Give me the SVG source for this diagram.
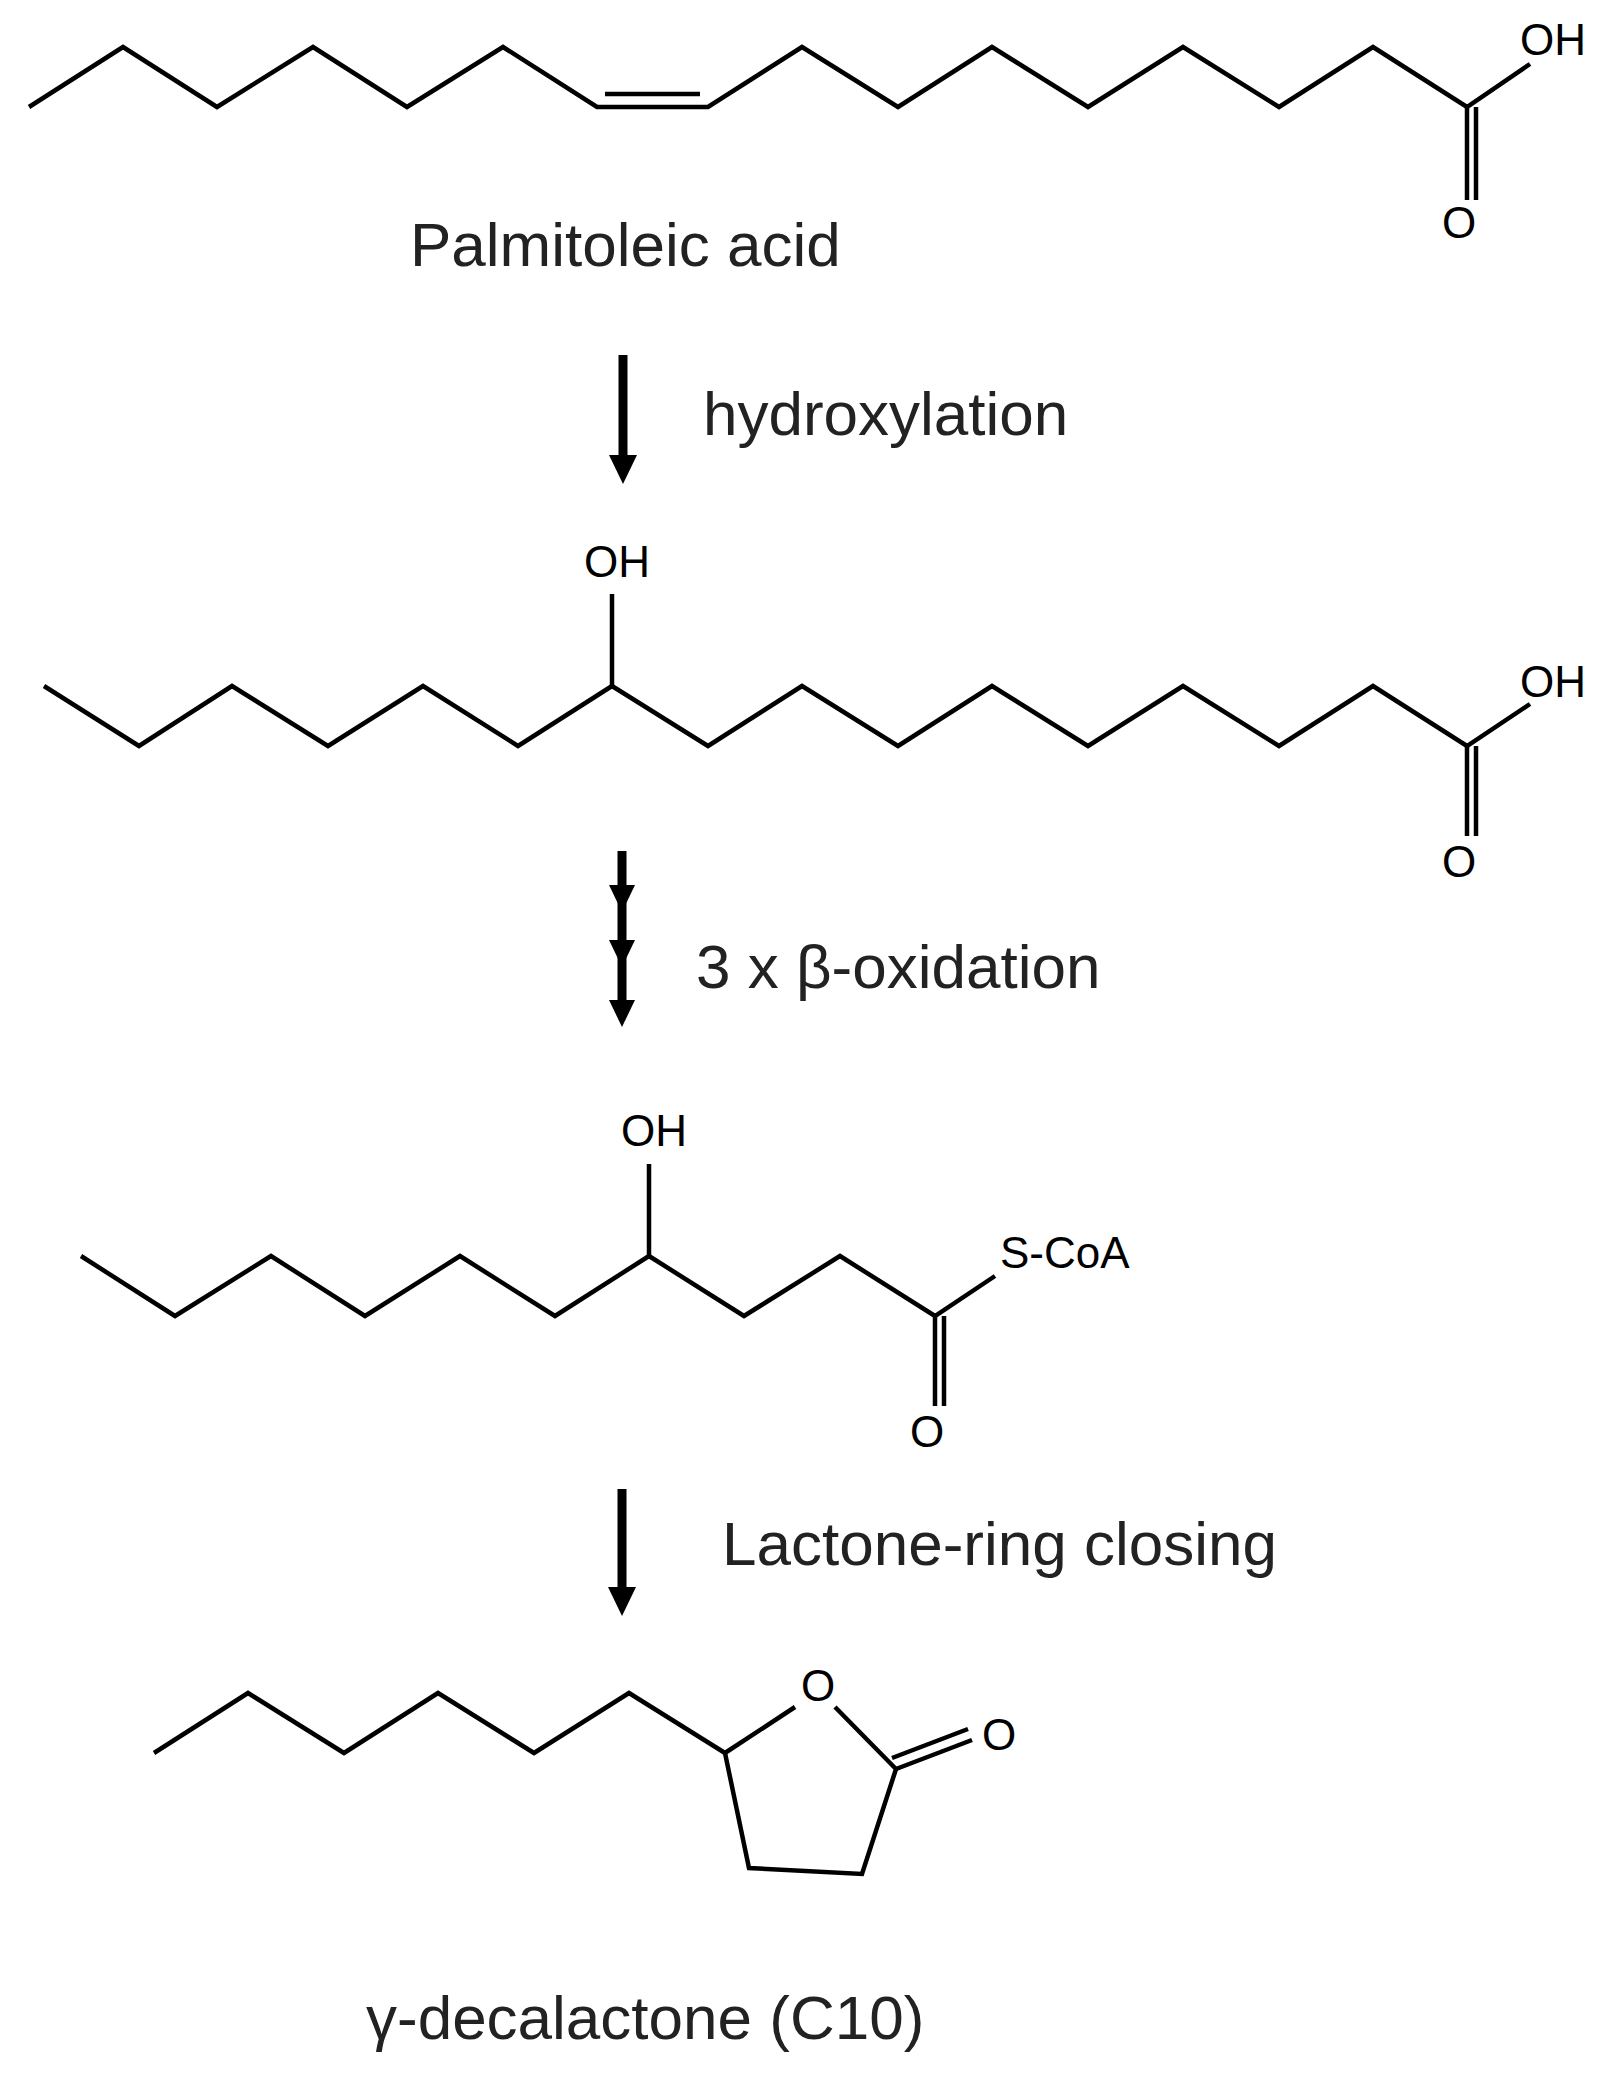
<svg xmlns="http://www.w3.org/2000/svg" width="1618" height="2091" viewBox="0 0 1618 2091">
<style>
.b{fill:none;stroke:#000;stroke-width:4.5;stroke-linejoin:miter}
.s{font-family:"Liberation Sans",Arial,sans-serif;font-size:44px;fill:#000}
.L{font-family:"Liberation Sans",Arial,sans-serif;font-size:62px;fill:#222}
.st{stroke:#000;stroke-width:9}
</style>
<rect width="1618" height="2091" fill="#fff"/>
<g id="palmitoleic">
<polyline class="b" points="29,107 123,47 217,107 313,47 407,107 503,47 597,107 708,107 802,47 898,107 992,47 1088,107 1183,47 1279,107 1373,47 1467,107 1530,64"/>
<line class="b" x1="605" y1="94" x2="700" y2="94"/>
<line class="b" x1="1467" y1="107" x2="1467" y2="200"/>
<line class="b" x1="1476" y1="107" x2="1476" y2="200"/>
<text class="s" x="1442" y="238">O</text>
<text class="s" x="1520" y="55">OH</text>
<text class="L" x="410" y="266">Palmitoleic acid</text>
</g>
<g id="hydroxy">
<polyline class="b" points="44,686 139,746 232,686 328,746 423,686 518,746 612,686 708,746 802,686 898,746 992,686 1088,746 1183,686 1279,746 1373,686 1467,746 1530,704"/>
<line class="b" x1="612" y1="686" x2="612" y2="594"/>
<text class="s" x="584" y="577">OH</text>
<line class="b" x1="1467" y1="746" x2="1467" y2="836"/>
<line class="b" x1="1476" y1="746" x2="1476" y2="836"/>
<text class="s" x="1442" y="877">O</text>
<text class="s" x="1520" y="697">OH</text>
</g>
<g id="coa">
<polyline class="b" points="81,1256 175,1316 271,1256 365,1316 460,1256 555,1316 649,1256 744,1316 840,1256 935,1316 995,1276"/>
<line class="b" x1="649" y1="1256" x2="649" y2="1164"/>
<text class="s" x="621" y="1146">OH</text>
<line class="b" x1="935" y1="1316" x2="935" y2="1406"/>
<line class="b" x1="944" y1="1316" x2="944" y2="1406"/>
<text class="s" x="910" y="1447">O</text>
<text class="s" x="1000" y="1268">S-CoA</text>
</g>
<g id="lactone">
<polyline class="b" points="154,1753 248,1693 344,1753 438,1693 534,1753 629,1693 725,1753 795,1707"/>
<polyline class="b" points="835,1707 896,1769 862,1874 749,1868 725,1753"/>
<line class="b" x1="896" y1="1769" x2="972" y2="1740"/>
<line class="b" x1="892" y1="1758" x2="968" y2="1729"/>
<text class="s" x="801" y="1701">O</text>
<text class="s" x="982" y="1750">O</text>
<text class="L" x="366" y="2039">γ-decalactone (C10)</text>
</g>
<g id="connectors">
<line class="st" x1="623" y1="355" x2="623" y2="458"/>
<path d="M609,455 L637,455 L623,484 z"/>
<text class="L" x="703" y="435">hydroxylation</text>
<line class="st" x1="622" y1="851" x2="622" y2="1000"/>
<path d="M609,885 L635,885 L622,912 z"/>
<path d="M609,940 L635,940 L622,967 z"/>
<path d="M609,1000 L635,1000 L622,1027 z"/>
<text class="L" x="696" y="988">3 x β-oxidation</text>
<line class="st" x1="622" y1="1489" x2="622" y2="1590"/>
<path d="M608,1587 L636,1587 L622,1616 z"/>
<text class="L" x="722" y="1565">Lactone-ring closing</text>
</g>
</svg>
